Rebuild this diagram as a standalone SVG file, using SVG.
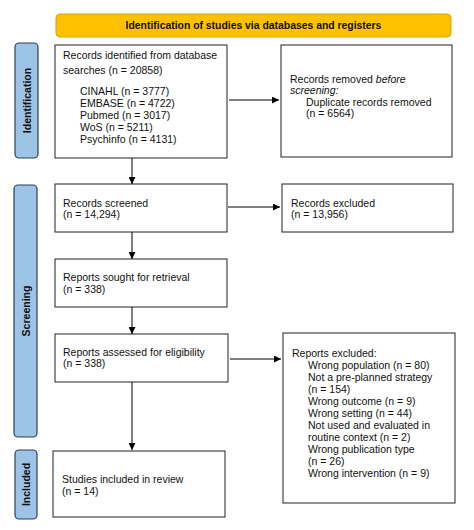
<svg xmlns="http://www.w3.org/2000/svg" width="474" height="530" viewBox="0 0 474 530">
<defs>
<marker id="ah" viewBox="0 0 10 10" refX="10" refY="5" markerWidth="7" markerHeight="7" orient="auto" markerUnits="userSpaceOnUse">
<path d="M0,0 L10,5 L0,10 z" fill="#000"/>
</marker>
<style>
.box{fill:#fff;stroke:#222;stroke-width:1}
.side{fill:#9dc3e6;stroke:#2f3f55;stroke-width:1.2}
.t{font-family:"Liberation Sans",Arial,sans-serif;font-size:10.5px;fill:#111}
.h{font-family:"Liberation Sans",Arial,sans-serif;font-size:10.4px;font-weight:bold;fill:#111}
.s{font-family:"Liberation Sans",Arial,sans-serif;font-size:10.5px;font-weight:bold;fill:#111}
.c{stroke:#000;stroke-width:1;fill:none;marker-end:url(#ah)}
</style>
</defs>
<rect width="474" height="530" fill="#fff"/>
<g id="header">
<rect x="56" y="14" width="395" height="23" rx="4" fill="#ffc000" stroke="#d9a400" stroke-width="1"/>
<text class="h" x="253.5" y="29" text-anchor="middle">Identification of studies via databases and registers</text>
</g>
<g id="lbl-identification">
<rect class="side" x="15" y="43" width="23" height="115" rx="4"/>
<text class="s" transform="translate(30.5,100.5) rotate(-90)" text-anchor="middle">Identification</text>
</g>
<g id="lbl-screening">
<rect class="side" x="14" y="185" width="23" height="252" rx="4"/>
<text class="s" transform="translate(29.5,311) rotate(-90)" text-anchor="middle">Screening</text>
</g>
<g id="lbl-included">
<rect class="side" x="15" y="450" width="22" height="69" rx="4"/>
<text class="s" transform="translate(30,484.5) rotate(-90)" text-anchor="middle">Included</text>
</g>
<g id="records-identified">
<rect class="box" x="55" y="45" width="172" height="113"/>
<text class="t" x="63" y="59">Records identified from database</text>
<text class="t" x="63" y="74">searches (n = 20858)</text>
<text class="t" x="80" y="95">CINAHL (n = 3777)</text>
<text class="t" x="80" y="107">EMBASE (n = 4722)</text>
<text class="t" x="80" y="119">Pubmed (n = 3017)</text>
<text class="t" x="80" y="131">WoS (n = 5211)</text>
<text class="t" x="80" y="143">Psychinfo (n = 4131)</text>
</g>
<g id="records-removed">
<rect class="box" x="281" y="45" width="171" height="112"/>
<text class="t" x="290" y="83">Records removed <tspan font-style="italic">before</tspan></text>
<text class="t" x="290" y="94" font-style="italic">screening:</text>
<text class="t" x="306" y="106">Duplicate records removed</text>
<text class="t" x="306" y="117">(n = 6564)</text>
</g>
<g id="records-screened">
<rect class="box" x="55" y="184" width="172" height="48"/>
<text class="t" x="63" y="207">Records screened</text>
<text class="t" x="63" y="218">(n = 14,294)</text>
</g>
<g id="records-excluded">
<rect class="box" x="282" y="184" width="171" height="48"/>
<text class="t" x="291" y="207">Records excluded</text>
<text class="t" x="291" y="218">(n = 13,956)</text>
</g>
<g id="reports-sought">
<rect class="box" x="55" y="259" width="172" height="48"/>
<text class="t" x="63" y="281">Reports sought for retrieval</text>
<text class="t" x="63" y="293">(n = 338)</text>
</g>
<g id="reports-assessed">
<rect class="box" x="55" y="334" width="173" height="48"/>
<text class="t" x="63" y="356">Reports assessed for eligibility</text>
<text class="t" x="63" y="367">(n = 338)</text>
</g>
<g id="reports-excluded">
<rect class="box" x="283" y="333" width="172" height="170"/>
<text class="t" x="292" y="357">Reports excluded:</text>
<text class="t" x="308" y="369">Wrong population (n = 80)</text>
<text class="t" x="308" y="381">Not a pre-planned strategy</text>
<text class="t" x="308" y="393">(n = 154)</text>
<text class="t" x="308" y="405">Wrong outcome (n = 9)</text>
<text class="t" x="308" y="417">Wrong setting (n = 44)</text>
<text class="t" x="308" y="429">Not used and evaluated in</text>
<text class="t" x="308" y="441">routine context (n = 2)</text>
<text class="t" x="308" y="453">Wrong publication type</text>
<text class="t" x="308" y="465">(n = 26)</text>
<text class="t" x="308" y="477">Wrong intervention (n = 9)</text>
</g>
<g id="studies-included">
<rect class="box" x="53" y="451" width="172" height="66"/>
<text class="t" x="62" y="483">Studies included in review</text>
<text class="t" x="62" y="495">(n = 14)</text>
</g>
<g id="connectors">
<line class="c" x1="229" y1="100" x2="279" y2="100"/>
<line class="c" x1="132" y1="158" x2="132" y2="184"/>
<line class="c" x1="228" y1="207" x2="280" y2="207"/>
<line class="c" x1="132" y1="232" x2="132" y2="259"/>
<line class="c" x1="132" y1="307" x2="132" y2="334"/>
<line class="c" x1="230" y1="359" x2="281" y2="359"/>
<line class="c" x1="132" y1="382" x2="132" y2="450"/>
</g>
</svg>
